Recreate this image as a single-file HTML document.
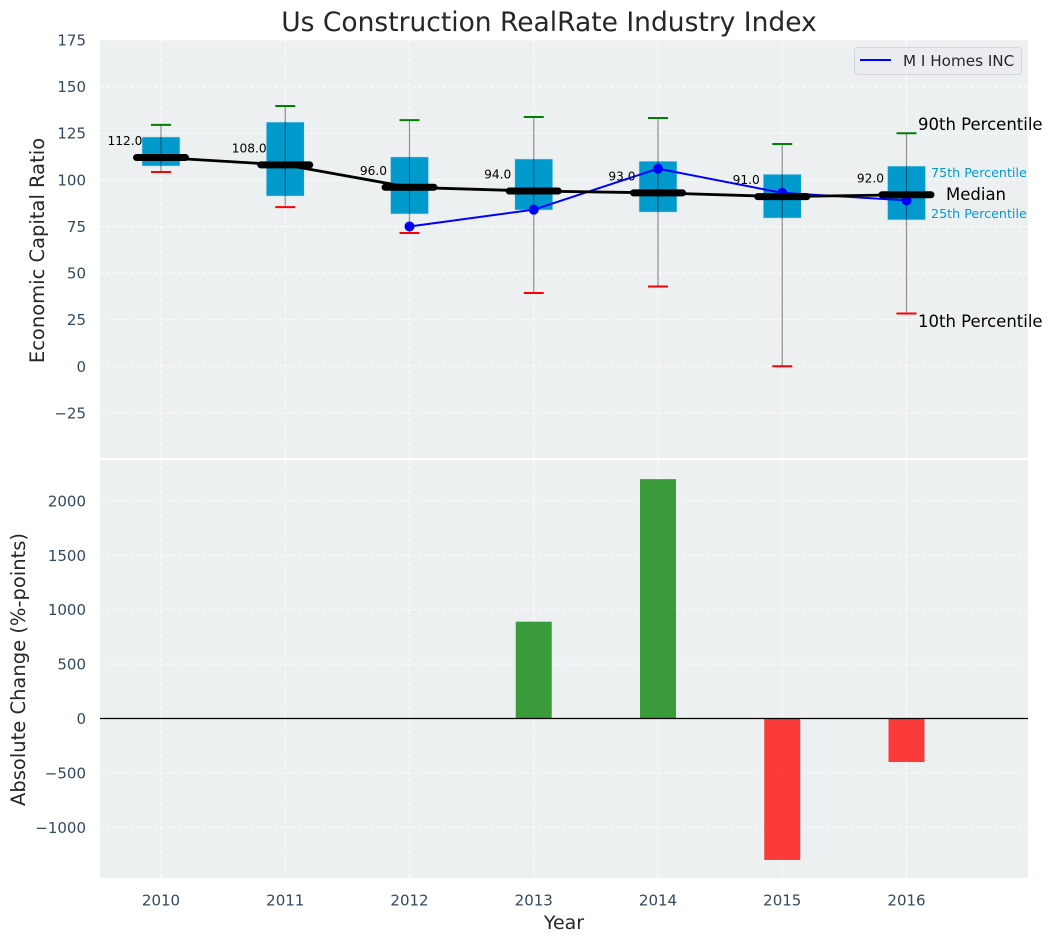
<!DOCTYPE html>
<html>
<head>
<meta charset="utf-8">
<style>
html,body{margin:0;padding:0;background:#fff;}
svg{display:block;font-family:"DejaVu Sans","Liberation Sans",sans-serif;}
</style>
</head>
<body>
<svg id="chart" width="1053" height="942" viewBox="0 0 1053 942" xmlns="http://www.w3.org/2000/svg">
  <text x="549" y="31" text-anchor="middle" font-size="26.5" fill="#262626">Us Construction RealRate Industry Index</text>
  <rect x="100" y="40" width="928" height="418" fill="#ecf0f1"/>
  <rect x="100" y="460" width="928" height="418" fill="#ecf0f1"/>
  <g id="grid"></g>
  <g id="bars"></g>
  <line x1="100" x2="1028" y1="718.5" y2="718.5" stroke="#000" stroke-width="1.2"/>
  <g id="boxes"></g>
  <g id="ticks"></g>
  <text transform="translate(44,250.5) rotate(-90)" text-anchor="middle" font-size="19.5" fill="#262626">Economic Capital Ratio</text>
  <text transform="translate(25,669.5) rotate(-90)" text-anchor="middle" font-size="19.5" fill="#262626">Absolute Change (%-points)</text>
  <text x="564" y="929" text-anchor="middle" font-size="19" fill="#262626">Year</text>
  <g>
    <rect x="854.5" y="47.5" width="167" height="27" rx="3" fill="#eaecf1" stroke="#d6d6dc"/>
    <line x1="860" x2="891" y1="60" y2="60" stroke="#0000ff" stroke-width="2"/>
    <text x="903" y="66" font-size="15.2" fill="#262626">M I Homes INC</text>
  </g>
  <g>
    <text x="918" y="130" font-size="16.5" fill="#000">90th Percentile</text>
    <text x="931" y="177" font-size="12.7" fill="#009acd">75th Percentile</text>
    <text x="946" y="200" font-size="16.5" fill="#000">Median</text>
    <text x="931" y="218" font-size="12.7" fill="#009acd">25th Percentile</text>
    <text x="918" y="327" font-size="16.5" fill="#000">10th Percentile</text>
  </g>
</svg>
<script>
const years = [2010, 2011, 2012, 2013, 2014, 2015, 2016];
const p90 = [129.5, 139.6, 132, 133.7, 133.2, 119.2, 125];
const p75 = [123, 131, 112.3, 111.2, 110, 103, 107.4];
const medians = [112, 108, 96, 94, 93, 91, 92];
const p25 = [107.4, 91.3, 81.7, 83.8, 82.7, 79.5, 78.5];
const p10 = [104.2, 85.4, 71.5, 39.3, 42.8, 0, 28.3];
const companyYears = [2012, 2013, 2014, 2015, 2016];
const companyValues = [75, 84, 106, 93, 89];
const changeYears = [2013, 2014, 2015, 2016];
const changeValues = [890, 2200, -1300, -400];
const topTicks = [175, 150, 125, 100, 75, 50, 25, 0, -25];
const bottomTicks = [2000, 1500, 1000, 500, 0, -500, -1000];

const NS = 'http://www.w3.org/2000/svg';
const sx = v => 161 + (v - 2010) * 124.25;
const syTop = v => 366.3 - v * 1.8645;
const syBottom = v => 718.5 - v * 0.1088;
function make(parent, tag, attrs, text) {
  const el = document.createElementNS(NS, tag);
  for (const k in attrs) el.setAttribute(k, attrs[k]);
  if (text !== undefined) el.textContent = text;
  parent.appendChild(el);
  return el;
}
const grid = document.getElementById('grid');
const bars = document.getElementById('bars');
const boxes = document.getElementById('boxes');
const ticks = document.getElementById('ticks');
const gridStyle = {stroke: '#ffffff', 'stroke-width': 1, 'stroke-dasharray': '4 2', fill: 'none', opacity: 0.85};

topTicks.forEach(t => {
  const y = syTop(t);
  const g = make(grid, 'line', Object.assign({x1: 100, x2: 1028, y1: y, y2: y}, gridStyle));
  
  
  const l = make(ticks, 'text', {x: 86, y: y + 5.5, 'text-anchor': 'end', 'font-size': 15, fill: '#34495e'}, String(t).replace('-', '\u2212'));
  
  
});
bottomTicks.forEach(t => {
  const y = syBottom(t);
  const g = make(grid, 'line', Object.assign({x1: 100, x2: 1028, y1: y, y2: y}, gridStyle));
  
  
  const l = make(ticks, 'text', {x: 86, y: y + 5.5, 'text-anchor': 'end', 'font-size': 15, fill: '#34495e'}, String(t).replace('-', '\u2212'));
  
  
});
years.forEach(yr => {
  const x = sx(yr);
  const a = make(grid, 'line', Object.assign({x1: x, x2: x, y1: 40, y2: 458}, gridStyle));
  
  
  const b = make(grid, 'line', Object.assign({x1: x, x2: x, y1: 460, y2: 878}, gridStyle));
  
  
  const l = make(ticks, 'text', {x: x, y: 905.5, 'text-anchor': 'middle', 'font-size': 15, fill: '#34495e'}, String(yr));
  
  
});

changeYears.forEach((yr, i) => {
  const v = changeValues[i];
  const y0 = syBottom(0), y1 = syBottom(v);
  const r = make(bars, 'rect', {x: sx(yr) - 18, y: Math.min(y0, y1), width: 36, height: Math.abs(y1 - y0), fill: v >= 0 ? '#008000' : '#ff0000', opacity: 0.76});
  
  
});

years.forEach((yr, i) => {
  const x = sx(yr);
  const r = make(boxes, 'rect', {x: x - 19, y: syTop(p75[i]), width: 38, height: syTop(p25[i]) - syTop(p75[i]), fill: '#009acd', stroke: '#bfe3ee', 'stroke-width': 0.6});
  
  
});
years.forEach((yr, i) => {
  const x = sx(yr);
  const w = make(boxes, 'line', {x1: x, x2: x, y1: syTop(p90[i]), y2: syTop(p10[i]), stroke: '#000', 'stroke-opacity': 0.42, 'stroke-width': 1.2});
  
  
});

const companyLine = make(boxes, 'polyline', {points: companyYears.map((yr, i) => sx(yr) + ',' + syTop(companyValues[i])).join(' '), fill: 'none', stroke: '#0000ff', 'stroke-width': 2});


companyYears.forEach((yr, i) => {
  const c = make(boxes, 'circle', {cx: sx(yr), cy: syTop(companyValues[i]), r: 5, fill: '#0000ff'});
  
  
});

const medianLine = make(boxes, 'polyline', {points: years.map((yr, i) => sx(yr) + ',' + syTop(medians[i])).join(' '), fill: 'none', stroke: '#000', 'stroke-width': 2.8});



years.forEach((yr, i) => {
  const x = sx(yr);
  const hi = make(boxes, 'line', {x1: x - 10, x2: x + 10, y1: syTop(p90[i]), y2: syTop(p90[i]), stroke: '#008000', 'stroke-width': 2});
  
  
  const lo = make(boxes, 'line', {x1: x - 10, x2: x + 10, y1: syTop(p10[i]), y2: syTop(p10[i]), stroke: '#ff0000', 'stroke-width': 2});
  
  
  const m = make(boxes, 'line', {x1: x - 24.5, x2: x + 24.5, y1: syTop(medians[i]), y2: syTop(medians[i]), stroke: '#000', 'stroke-width': 7, 'stroke-linecap': 'round'});
  
  
  const t = make(boxes, 'text', {x: x - 36, y: syTop(medians[i]) - 12.5, 'text-anchor': 'middle', 'font-size': 12.2, fill: '#000'}, medians[i].toFixed(1));
  
  
});
</script>
</body>
</html>
